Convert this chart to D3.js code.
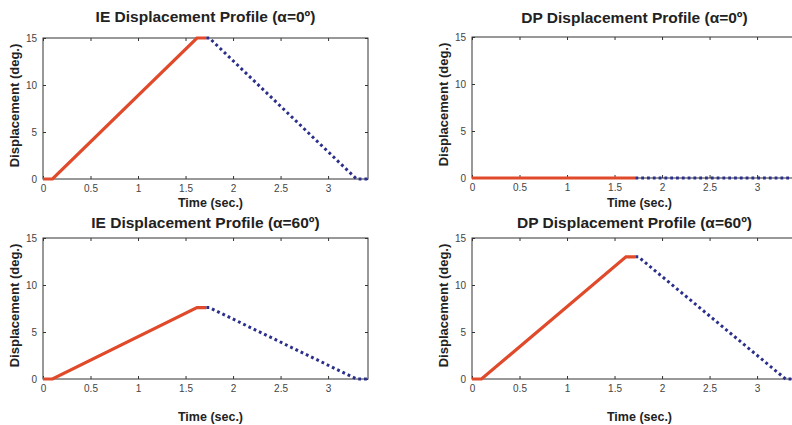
<!DOCTYPE html>
<html><head><meta charset="utf-8">
<script src="https://cdn.jsdelivr.net/npm/d3@7"></script>
<style>body{margin:0;background:#fff;}svg{display:block;}</style>
</head><body>
<svg id="c" width="792" height="425"></svg>
<script>
// ---- data ----
const titles = ["IE Displacement Profile (α=0º)", "DP Displacement Profile (α=0º)", "IE Displacement Profile (α=60º)", "DP Displacement Profile (α=60º)"];
const xTicks = [0, 0.5, 1, 1.5, 2, 2.5, 3];
const yTicks = [0, 5, 10, 15];
const xLabel = "Time (sec.)";
const yLabel = "Displacement (deg.)";
// red (solid) phase and blue (dotted) phase: time, displacement
const rampTime = [0, 0.1, 1.62, 1.72];
const holdTime = [1.72, 1.75, 3.3, 3.42];
const ieA0Up = [0, 0, 15, 15];
const ieA0Down = [15, 15, 0, 0];
const dpA0Up = [0, 0, 0, 0];
const dpA0Down = [0, 0, 0, 0];
const ieA60Up = [0, 0, 7.6, 7.6];
const ieA60Down = [7.6, 7.6, 0, 0];
const dpA60Up = [0, 0, 13, 13];
const dpA60Down = [13, 13, 0, 0];
const upSeries = [ieA0Up, dpA0Up, ieA60Up, dpA60Up];
const downSeries = [ieA0Down, dpA0Down, ieA60Down, dpA60Down];

const svg = d3.select("#c");
const panels = [
  {x0: 43, x1: 368, y0: 38, y1: 179, ty: 22, xl: 207},
  {x0: 472, x1: 797, y0: 37, y1: 178, ty: 23, xl: 207},
  {x0: 43, x1: 368, y0: 238, y1: 379, ty: 228, xl: 421},
  {x0: 472, x1: 797, y0: 238, y1: 379, ty: 228, xl: 421}
];
const font = "Arial, 'Liberation Sans', sans-serif";

panels.forEach((p, i) => {
  const x = d3.scaleLinear().domain([0, 3.42]).range([p.x0, p.x1]);
  const y = d3.scaleLinear().domain([0, 15]).range([p.y1, p.y0]);
  const g = svg.append("g");
  const cid = "clip" + i;
  svg.append("clipPath").attr("id", cid).append("rect")
    .attr("x", p.x0 - 2).attr("y", p.y0 - 2).attr("width", p.x1 - p.x0 + 4).attr("height", p.y1 - p.y0 + 4);

  g.append("rect").attr("x", p.x0).attr("y", p.y0).attr("width", p.x1 - p.x0).attr("height", p.y1 - p.y0)
    .attr("fill", "none").attr("stroke", "#333").attr("stroke-width", 1);

  const tickStyle = sel => {
    sel.select(".domain").remove();
    sel.selectAll(".tick line").attr("stroke", "#333");
    sel.selectAll(".tick text").attr("fill", "#444").attr("font-family", font).attr("font-size", 10);
  };
  g.append("g").attr("transform", `translate(0,${p.y1})`)
    .call(d3.axisBottom(x).tickValues(xTicks).tickSizeInner(-3).tickSizeOuter(0).tickPadding(6).tickFormat(d3.format("")))
    .call(tickStyle);
  g.append("g").attr("transform", `translate(0,${p.y0})`)
    .call(d3.axisTop(x).tickValues(xTicks).tickSizeInner(-3).tickSizeOuter(0).tickFormat(""))
    .call(tickStyle);
  g.append("g").attr("transform", `translate(${p.x0},0)`)
    .call(d3.axisLeft(y).tickValues(yTicks).tickSizeInner(-3).tickSizeOuter(0).tickPadding(6))
    .call(tickStyle);
  g.append("g").attr("transform", `translate(${p.x1},0)`)
    .call(d3.axisRight(y).tickValues(yTicks).tickSizeInner(-3).tickSizeOuter(0).tickFormat(""))
    .call(tickStyle);

  const line = d3.line().x(d => x(d[0])).y(d => y(d[1]));
  const plot = g.append("g").attr("clip-path", `url(#${cid})`);
  plot.append("path").datum(rampTime.map((t, k) => [t, upSeries[i][k]]))
    .attr("d", line).attr("fill", "none").attr("stroke", "#e04a2a").attr("stroke-width", 3.2);
  plot.append("path").datum(holdTime.map((t, k) => [t, downSeries[i][k]]))
    .attr("d", line).attr("fill", "none").attr("stroke", "#2b2f8c").attr("stroke-width", 3)
    .attr("stroke-dasharray", "2.8,3");

  const cx = (p.x0 + p.x1) / 2;
  g.append("text").attr("x", cx).attr("y", p.ty).attr("text-anchor", "middle")
    .attr("font-family", font).attr("font-weight", "bold").attr("font-size", 15.5).attr("fill", "#222")
    .text(titles[i]);
  g.append("text").attr("x", cx + 5).attr("y", p.xl).attr("text-anchor", "middle")
    .attr("font-family", font).attr("font-weight", "bold").attr("font-size", 12.5).attr("fill", "#222")
    .text(xLabel);
  const ly = (p.y0 + p.y1) / 2 - 3;
  g.append("text").attr("transform", `translate(${p.x0 - 24},${ly}) rotate(-90)`).attr("text-anchor", "middle")
    .attr("font-family", font).attr("font-weight", "bold").attr("font-size", 13).attr("fill", "#222")
    .text(yLabel);
});
</script>
</body></html>
